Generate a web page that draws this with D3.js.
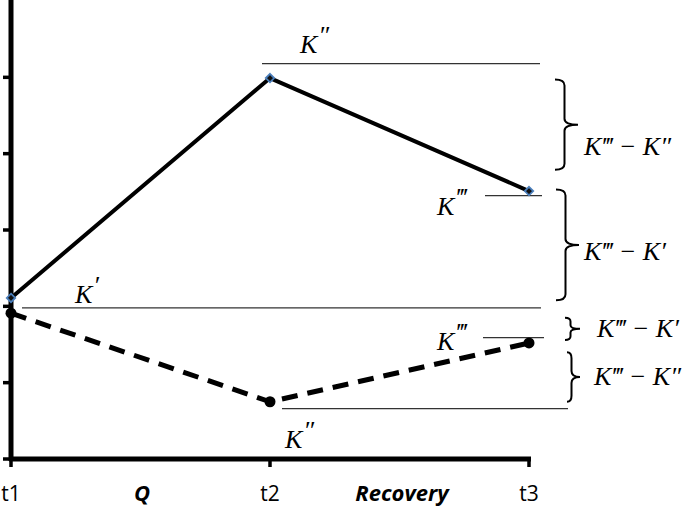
<!DOCTYPE html>
<html>
<head>
<meta charset="utf-8">
<script src="https://cdn.jsdelivr.net/npm/d3@7"></script>
<style>
  body { margin: 0; background: #fff; }
  .mathlbl { font-family: "Liberation Serif", "DejaVu Serif", serif; font-style: italic; }
  .tlbl { font-family: "Open Sans", "Liberation Sans", sans-serif; }
</style>
</head>
<body>
<div id="chart"></div>
<script>
// time points and the two paths
var times = ["t1", "t2", "t3"];
var solidValues = [2.11, 4.99, 3.51];
var dashedValues = [1.91, 0.75, 1.52];
var yTicks = [0, 1, 2, 3, 4, 5];
var phaseLabels = ["Q", "Recovery"];

// reference levels (K lines) and brace ranges, in y units
var refLabels = ["K″", "K‴", "K′", "K‴", "K″"];
var refLevels = [5.18, 3.45, 1.98, 1.59, 0.66];
var braceTexts = ["K‴ − K″", "K‴ − K′", "K‴ − K′", "K‴ − K″"];
var braceFrom = [4.97, 3.53, 1.85, 1.40];
var braceTo = [3.79, 2.08, 1.56, 0.75];

var W = 685, H = 508;

var svg = d3.select("#chart").append("svg")
  .attr("width", W)
  .attr("height", H);

var x = d3.scalePoint()
  .domain(times)
  .range([11, 529]);

var y = d3.scaleLinear()
  .domain([0, 6])
  .range([459, 1]);

// axes
svg.append("line")
  .attr("x1", x("t1")).attr("x2", x("t1"))
  .attr("y1", 0).attr("y2", y(0) + 2)
  .attr("stroke", "#000").attr("stroke-width", 5);
svg.append("line")
  .attr("x1", x("t1") - 2).attr("x2", x("t3") + 2)
  .attr("y1", y(0)).attr("y2", y(0))
  .attr("stroke", "#000").attr("stroke-width", 5);

svg.selectAll(".ytick")
  .data(yTicks)
  .enter().append("line")
    .attr("x1", x("t1") - 8).attr("x2", x("t1"))
    .attr("y1", d => y(d)).attr("y2", d => y(d))
    .attr("stroke", "#000").attr("stroke-width", 3.5);

svg.selectAll(".xtick")
  .data(times)
  .enter().append("line")
    .attr("x1", d => x(d)).attr("x2", d => x(d))
    .attr("y1", y(0)).attr("y2", y(0) + 8)
    .attr("stroke", "#000").attr("stroke-width", 3.5);

svg.selectAll(".tlab")
  .data(times)
  .enter().append("text")
    .attr("class", "tlbl")
    .attr("x", d => x(d))
    .attr("y", 501)
    .attr("text-anchor", "middle")
    .attr("font-size", 21)
    .text(d => d);

// phase labels sit between the ticks
svg.selectAll(".phase")
  .data(phaseLabels)
  .enter().append("text")
    .attr("class", "tlbl")
    .attr("x", (d, i) => i == 0 ? 142 : 402)
    .attr("y", 501)
    .attr("text-anchor", "middle")
    .attr("font-size", 22)
    .attr("font-weight", "bold")
    .attr("font-style", "italic")
    .text(d => d);

// reference lines with their K labels
var refSpan = [[262, 540], [485, 542], [22, 541], [483, 544], [282, 568]];
var refLab = [[300, 53], [437, 215], [75, 303], [437, 350], [285, 448]];

svg.selectAll(".ref")
  .data(refLevels)
  .enter().append("line")
    .attr("x1", (d, i) => refSpan[i][0])
    .attr("x2", (d, i) => refSpan[i][1])
    .attr("y1", d => y(d)).attr("y2", d => y(d))
    .attr("stroke", "#333").attr("stroke-width", 1.3);

var kl = svg.selectAll(".klab")
  .data(refLabels)
  .enter().append("text")
    .attr("class", "mathlbl")
    .attr("x", (d, i) => refLab[i][0])
    .attr("y", (d, i) => refLab[i][1])
    .attr("font-size", 26);
kl.append("tspan").text("K");
kl.append("tspan")
  .attr("dx", 1).attr("dy", -9)
  .attr("font-size", 26)
  .text(d => d.slice(1));

// the two paths
var line = d3.line()
  .x((d, i) => x(times[i]))
  .y(d => y(d));

svg.append("path")
  .datum(solidValues)
  .attr("d", line)
  .attr("fill", "none")
  .attr("stroke", "#000")
  .attr("stroke-width", 4);

svg.append("path")
  .datum(dashedValues)
  .attr("d", line)
  .attr("fill", "none")
  .attr("stroke", "#000")
  .attr("stroke-width", 5)
  .attr("stroke-dasharray", "16,10");

svg.selectAll(".dia")
  .data(solidValues)
  .enter().append("path")
    .attr("d", d3.symbol().type(d3.symbolDiamond2).size(45))
    .attr("transform", (d, i) => "translate(" + x(times[i]) + "," + y(d) + ")")
    .attr("fill", "#111")
    .attr("stroke", "#4a7ebb")
    .attr("stroke-width", 1.8);

svg.selectAll(".dot")
  .data(dashedValues)
  .enter().append("circle")
    .attr("cx", (d, i) => x(times[i]))
    .attr("cy", d => y(d))
    .attr("r", 5.5)
    .attr("fill", "#000");

// curly braces on the right
var braceX = [[555, 578], [556, 579], [565, 580], [567, 580]];
var braceLab = [[584, 155], [584, 260], [597, 337], [594, 385]];

function bracePath(x0, x1, ya, yb) {
  var xm = (x0 + x1) / 2 - 2, mid = (ya + yb) / 2, r = Math.min(6, (yb - ya) / 6);
  return "M" + x0 + "," + ya +
    " Q" + xm + "," + ya + " " + xm + "," + (ya + r) +
    " L" + xm + "," + (mid - r) +
    " Q" + xm + "," + mid + " " + x1 + "," + mid +
    " Q" + xm + "," + mid + " " + xm + "," + (mid + r) +
    " L" + xm + "," + (yb - r) +
    " Q" + xm + "," + yb + " " + x0 + "," + yb;
}

svg.selectAll(".brace")
  .data(braceFrom)
  .enter().append("path")
    .attr("d", (d, i) => bracePath(braceX[i][0], braceX[i][1], y(d), y(braceTo[i])))
    .attr("fill", "none")
    .attr("stroke", "#000")
    .attr("stroke-width", 2);

svg.selectAll(".blab")
  .data(braceTexts)
  .enter().append("text")
    .attr("class", "mathlbl")
    .attr("x", (d, i) => braceLab[i][0])
    .attr("y", (d, i) => braceLab[i][1])
    .attr("font-size", 26)
    .text(d => d);
</script>
</body>
</html>
